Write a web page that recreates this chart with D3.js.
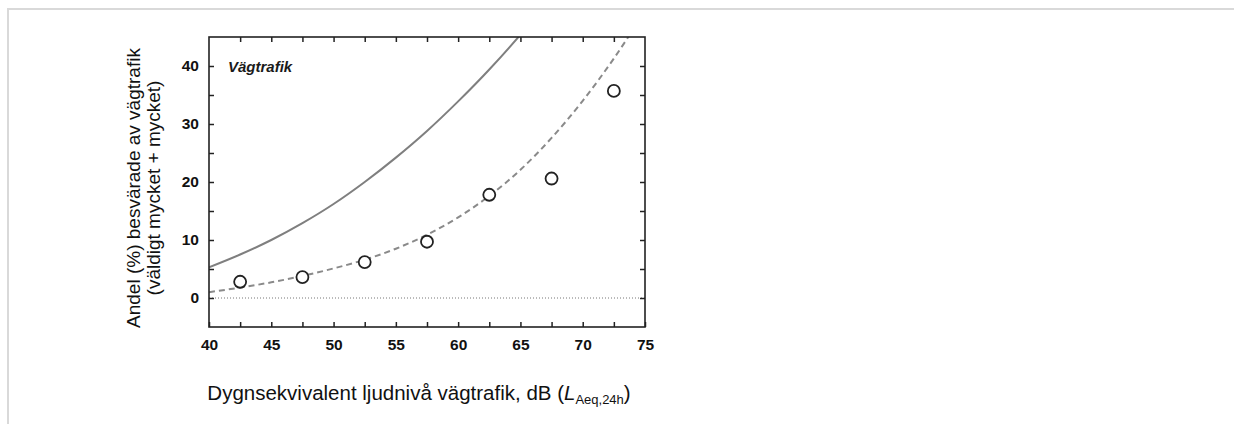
<!DOCTYPE html>
<html>
<head>
<meta charset="utf-8">
<script src="https://cdn.jsdelivr.net/npm/d3@7"></script>
<style>
  html, body { margin: 0; padding: 0; background: #fff; }
  svg { display: block; font-family: "Liberation Sans", Arial, sans-serif; }
</style>
</head>
<body>
<div id="chart"></div>
<script>
// observed share annoyed per 5 dB class
const obsLevels = [42.5, 47.5, 52.5, 57.5, 62.5, 67.5, 72.5];
const obsAnnoyed = [2.8, 3.6, 6.2, 9.7, 17.8, 20.6, 35.7];

// reference curve (solid) and fitted curve (dashed), read every 2.5 dB
const curveLevels = [40, 42.5, 45, 47.5, 50, 52.5, 55, 57.5, 60, 62.5, 65, 67.5, 70, 72.5, 75];
const solidCurve = [5.3, 7.5, 10.0, 12.9, 16.2, 20.0, 24.2, 28.8, 33.9, 39.4, 45.4, 52, 59, 66, 73];
const dashedCurve = [1.0, 1.8, 2.7, 3.8, 5.1, 6.6, 8.5, 10.9, 13.9, 17.6, 22.1, 27.6, 34.0, 41.3, 49.5];

const xTicks = d3.range(40, 75.1, 2.5);
const xLabels = [40, 45, 50, 55, 60, 65, 70, 75];
const yTicks = d3.range(-5, 45.1, 5);
const yLabels = [0, 10, 20, 30, 40];

const W = 1234, H = 424;
const margin = { top: 37, left: 209 };
const width = 645 - 209, height = 327 - 37;

const svg = d3.select("#chart").append("svg")
    .attr("width", W)
    .attr("height", H);

// page border (top + left)
svg.append("line").attr("x1", 7).attr("x2", W).attr("y1", 9).attr("y2", 9)
    .style("stroke", "#d9d9d9").style("stroke-width", 2);
svg.append("line").attr("x1", 8).attr("x2", 8).attr("y1", 8).attr("y2", H)
    .style("stroke", "#d9d9d9").style("stroke-width", 2);

const g = svg.append("g").attr("transform", `translate(${margin.left},${margin.top})`);

const x = d3.scaleLinear().domain([40, 75]).range([0, width]);
const y = d3.scaleLinear().domain([-5, 45]).range([height, 0]);

g.append("clipPath").attr("id", "plotClip")
    .append("rect").attr("width", width).attr("height", height);

// zero line
g.append("line")
    .attr("x1", 0).attr("x2", width)
    .attr("y1", y(0)).attr("y2", y(0))
    .style("stroke", "#777").style("stroke-width", 1)
    .style("stroke-dasharray", "1,2");

const line = d3.line()
    .x((d, i) => x(curveLevels[i]))
    .y(d => y(d))
    .curve(d3.curveMonotoneX);

const curves = g.append("g").attr("clip-path", "url(#plotClip)");

curves.append("path")
    .datum(solidCurve)
    .attr("d", line)
    .style("fill", "none")
    .style("stroke", "#7f7f7f")
    .style("stroke-width", 2);

curves.append("path")
    .datum(dashedCurve)
    .attr("d", line)
    .style("fill", "none")
    .style("stroke", "#8a8a8a")
    .style("stroke-width", 2)
    .style("stroke-dasharray", "6,4");

// data points
g.selectAll(".pt")
    .data(obsLevels)
    .enter().append("circle")
    .attr("class", "pt")
    .attr("cx", d => x(d))
    .attr("cy", (d, i) => y(obsAnnoyed[i]))
    .attr("r", 6)
    .style("fill", "#fff")
    .style("stroke", "#222")
    .style("stroke-width", 1.8);

// axes, ticks pointing inward
function styleAxis(sel) {
    sel.select(".domain").remove();
    sel.selectAll(".tick line").style("stroke", "#222").style("stroke-width", 1.5);
    sel.selectAll("text")
        .style("font-size", "15.5px")
        .style("font-weight", "bold")
        .style("fill", "#111");
}

g.append("g")
    .attr("transform", `translate(0,${height})`)
    .call(d3.axisBottom(x).tickValues(xTicks).tickSize(-5).tickPadding(12)
        .tickFormat(d => xLabels.includes(d) ? d : ""))
    .call(styleAxis);

g.append("g")
    .call(d3.axisTop(x).tickValues(xTicks.slice(1, -1)).tickSize(-5).tickFormat(""))
    .call(styleAxis);

g.append("g")
    .call(d3.axisLeft(y).tickValues(yTicks.slice(1, -1)).tickSize(-5).tickPadding(10)
        .tickFormat(d => yLabels.includes(d) ? d : ""))
    .call(styleAxis);

g.append("g")
    .attr("transform", `translate(${width},0)`)
    .call(d3.axisRight(y).tickValues(yTicks.slice(1, -1)).tickSize(-5).tickFormat(""))
    .call(styleAxis);

// frame
g.append("rect")
    .attr("width", width).attr("height", height)
    .style("fill", "none")
    .style("stroke", "#222")
    .style("stroke-width", 1.6);

// panel label
g.append("text")
    .attr("x", 19).attr("y", 35)
    .style("font-size", "15px")
    .style("font-weight", "bold")
    .style("font-style", "italic")
    .style("fill", "#1a1a1a")
    .text("Vägtrafik");

// y title
const yTitle = svg.append("text")
    .attr("transform", "translate(0,188) rotate(-90)")
    .style("font-size", "19px")
    .style("fill", "#111")
    .style("text-anchor", "middle");
yTitle.append("tspan").attr("x", 0).attr("y", 140).text("Andel (%) besvärade av vägtrafik");
yTitle.append("tspan").attr("x", 0).attr("y", 160).text("(väldigt mycket + mycket)");

// x title
const xTitle = svg.append("text")
    .attr("x", 419).attr("y", 400)
    .style("font-size", "20.5px")
    .style("fill", "#111")
    .style("text-anchor", "middle");
xTitle.append("tspan").text("Dygnsekvivalent ljudnivå vägtrafik, dB (");
xTitle.append("tspan").style("font-style", "italic").text("L");
xTitle.append("tspan").attr("dy", 4).style("font-size", "13px").text("Aeq,24h");
xTitle.append("tspan").attr("dy", -4).text(")");
</script>
</body>
</html>
